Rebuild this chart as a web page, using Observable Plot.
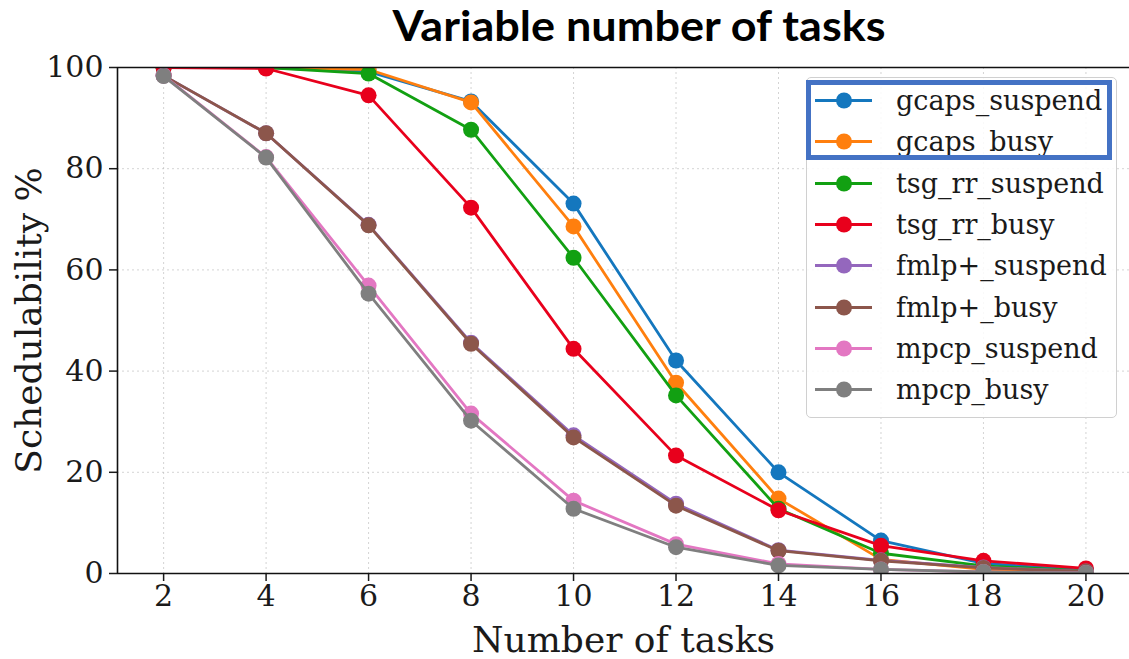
<!DOCTYPE html>
<html>
<head>
<meta charset="utf-8">
<script src="https://cdn.jsdelivr.net/npm/d3@7"></script>
<script src="https://cdn.jsdelivr.net/npm/@observablehq/plot@0.6"></script>
<style>
  html, body { margin:0; padding:0; background:#fff; }
  #wrap { position:relative; width:1129px; height:659px; overflow:hidden; background:#fff; }
  #title { position:absolute; top:0px; left:0; width:1129px; text-align:center; padding-left:150px; box-sizing:border-box;
           font-family: Lato, "Open Sans", sans-serif; font-weight:700; font-size:42px; color:#000; white-space:nowrap; }
  #title span { display:inline-block; transform-origin:center; }
  #chart { position:absolute; top:50px; left:0; }
  #legend { position:absolute; left:806px; top:77px; width:309px; height:339px; border:1.5px solid #d0d0d0; border-radius:5px;
            background:rgba(255,255,255,0.85); box-sizing:content-box; }
  .entry { position:absolute; left:0; height:41px; display:flex; align-items:center; }
  .entry span { font-family:"DejaVu Serif", serif; font-size:27px; color:#1a1a1a; margin-left:11px; }
  #hl { position:absolute; left:806px; top:80px; width:296px; height:70px; border:5px solid #4472C4; }
</style>
</head>
<body>
<div id="wrap">
  <div id="title"><span>Variable number of tasks</span></div>
  <div id="chart"></div>
  <div id="legend"></div>
  <div id="hl"></div>
</div>
<script>
// ---- data ----
const tasks = [2, 4, 6, 8, 10, 12, 14, 16, 18, 20];
const seriesNames = ["gcaps_suspend", "gcaps_busy", "tsg_rr_suspend", "tsg_rr_busy",
                     "fmlp+_suspend", "fmlp+_busy", "mpcp_suspend", "mpcp_busy"];
const gcapsSuspend = [100, 100, 99.2, 93.3, 73.1, 42.1, 20.0, 6.5, 2.0, 0.6];
const gcapsBusy    = [100, 100, 99.6, 93.1, 68.6, 37.7, 14.8, 2.8, 0.8, 0.2];
const tsgSuspend   = [100, 100, 98.8, 87.7, 62.4, 35.2, 12.8, 4.0, 1.5, 0.5];
const tsgBusy      = [100, 99.8, 94.5, 72.3, 44.4, 23.3, 12.5, 5.5, 2.5, 1.0];
const fmlpSuspend  = [98.4, 87.0, 68.9, 45.6, 27.3, 13.8, 4.6, 2.6, 1.2, 0.4];
const fmlpBusy     = [98.4, 87.0, 68.8, 45.4, 26.9, 13.4, 4.5, 2.5, 1.1, 0.4];
const mpcpSuspend  = [98.4, 82.3, 56.9, 31.6, 14.4, 5.8, 1.9, 0.8, 0.3, 0.1];
const mpcpBusy     = [98.3, 82.2, 55.3, 30.2, 12.8, 5.2, 1.6, 0.8, 0.3, 0.1];
const seriesValues = [gcapsSuspend, gcapsBusy, tsgSuspend, tsgBusy, fmlpSuspend, fmlpBusy, mpcpSuspend, mpcpBusy];
const colors = ["#1477be", "#ff7f0e", "#12a012", "#e8001c", "#9467bd", "#8c564b", "#e377c2", "#7f7f7f"];
const xTicks = [2, 4, 6, 8, 10, 12, 14, 16, 18, 20];
const yTicks = [0, 20, 40, 60, 80, 100];
const titleText = "Variable number of tasks";
const xLabel = "Number of tasks";
const yLabel = "Schedulability %";

const rows = seriesNames.flatMap((s, i) => tasks.map((t, j) => ({series: s, tasks: t, value: seriesValues[i][j]})));

const seriesMarks = seriesNames.flatMap((s) => {
  const d = rows.filter(r => r.series === s);
  return [
    Plot.line(d, {x: "tasks", y: "value", stroke: "series", strokeWidth: 2.8, clip: true}),
    Plot.dot(d, {x: "tasks", y: "value", fill: "series", r: 8, stroke: "none", clip: true})
  ];
});

const chart = Plot.plot({
  width: 1129,
  height: 609,
  marginTop: 17,
  marginLeft: 117,
  marginRight: 0,
  marginBottom: 86,
  style: {fontFamily: "'DejaVu Serif', serif", fontSize: "30px", color: "#1a1a1a", background: "transparent", overflow: "visible"},
  x: {domain: [1.1, 20.85]},
  y: {domain: [0, 100]},
  color: {domain: seriesNames, range: colors},
  marks: [
    Plot.gridX(xTicks, {stroke: "#b8b8b8", strokeOpacity: 0.6, strokeDasharray: "2,3", strokeWidth: 1}),
    Plot.gridY(yTicks, {stroke: "#b8b8b8", strokeOpacity: 0.6, strokeDasharray: "2,3", strokeWidth: 1}),
    Plot.axisX(xTicks, {tickSize: 8, tickPadding: 3, fontSize: 30, label: null, strokeWidth: 1.5}),
    Plot.axisY(yTicks, {tickSize: 8, tickPadding: 6, fontSize: 30, label: null, strokeWidth: 1.5}),
    ...seriesMarks,
    Plot.ruleY([0, 100], {stroke: "#111", strokeWidth: 1.6}),
    Plot.ruleX([1.1], {stroke: "#111", strokeWidth: 1.6}),
    Plot.text([xLabel], {text: d => d, frameAnchor: "bottom", dy: 67, lineAnchor: "middle", textAnchor: "middle", fontSize: 36, fill: "#1a1a1a"}),
    Plot.text([yLabel], {text: d => d, frameAnchor: "left", dx: -88, rotate: -90, lineAnchor: "middle", textAnchor: "middle", fontSize: 36, fill: "#1a1a1a"})
  ]
});
document.getElementById("chart").appendChild(chart);

// title: fit to reference width
const tspan = document.querySelector("#title span");
tspan.textContent = titleText;
const tw = tspan.getBoundingClientRect().width;
tspan.style.transform = `scaleX(${493 / tw})`;

// legend
const legend = document.getElementById("legend");
seriesNames.forEach((s, i) => {
  const e = document.createElement("div");
  e.className = "entry";
  e.style.top = (2 + i * 41.3) + "px";
  e.innerHTML = `<svg width="70" height="41" style="margin-left:8px">
      <line x1="0" x2="57" y1="20.5" y2="20.5" stroke="${colors[i]}" stroke-width="2.8"/>
      <circle cx="29" cy="20.5" r="8" fill="${colors[i]}"/></svg><span></span>`;
  e.querySelector("span").textContent = s;
  legend.appendChild(e);
});
</script>
</body>
</html>
